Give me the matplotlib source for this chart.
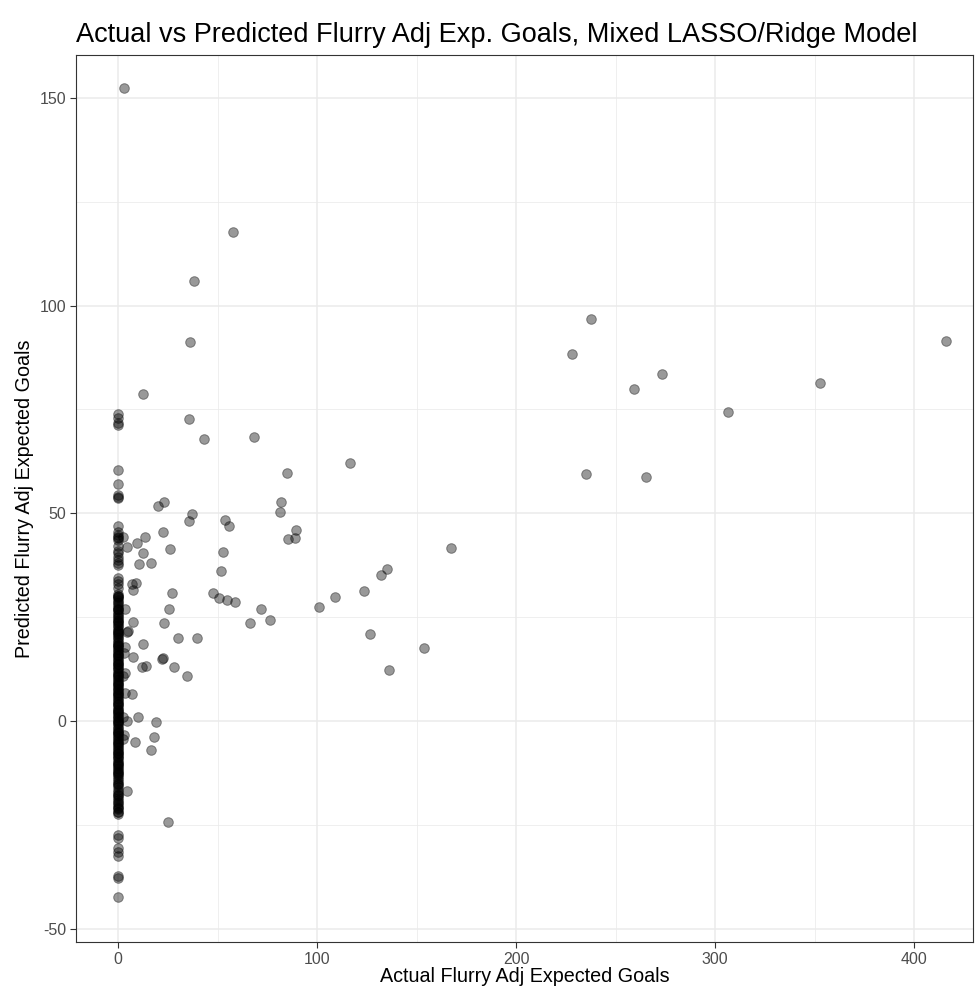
import numpy as np
import matplotlib
matplotlib.use("Agg")
import matplotlib.pyplot as plt

plt.rcParams["font.family"] = ["Liberation Sans", "DejaVu Sans"]

# players with 0 actual flurry adj xG (the column at x = 0)
zero_actual_pred = [
    73.9, 72.9, 71.8, 71.2, 60.4, 57.0, 54.5, 53.9, 53.6, 47.0, 45.5, 44.8, 44.0, 43.5,
    41.0, 40.5, 39.5, 38.0, 37.5, 34.5, 33.8, 33.0, 32.0, 30.5, 30.0, 29.5, 29.0, 28.3,
    27.5, 27.0, 26.2, 25.5, 25.0, 24.3, 23.5, 22.8, 22.0, 21.4, 21.0, 20.3, 19.5, 18.8,
    18.0, 17.4, 16.6, 16.0, 15.2, 14.5, 13.8, 13.0, 12.4, 11.6, 11.0, 10.2, 9.5, 8.8,
    8.0, 7.4, 6.6, 6.0, 5.2, 4.5, 3.8, 3.0, 2.4, 1.6, 1.0, 0.3, -0.5, -1.2, -2.0, -2.6,
    -3.4, -4.0, -4.8, -5.5, -6.2, -7.0, -7.6, -8.4, -9.0, -9.8, -10.5, -11.2, -12.0,
    -12.8, -13.5, -14.5, -15.5, -16.5, -17.5, -18.5, -19.5, -20.3, -21.0, -21.8, -22.5,
    -27.4, -28.2, -30.6, -31.5, -32.5, -37.3, -37.8, -42.4,
    # second layer where the column is solid black
    44.2, 42.0, 38.8, 29.8, 28.7, 27.8, 26.6, 25.8, 24.7, 23.9, 23.1, 22.4, 21.7, 20.7,
    19.9, 19.1, 18.4, 17.7, 17.0, 16.3, 15.6, 14.9, 14.1, 13.4, 12.7, 12.0, 11.3, 10.6,
    9.9, 9.1, 8.4, 7.7, 7.0, 6.3, 5.6, 4.9, 4.1, 3.4, 2.7, 2.0, 1.3, 0.6, -0.1, -0.8,
    -1.6, -2.3, -3.0, -3.7, -4.4, -5.1, -5.8, -6.6, -7.3, -8.0, -8.7, -9.4, -10.1,
    -10.8, -11.6, -12.4, -13.1, -14.0, -15.0, -16.0, -17.0, -18.0, -19.0, -20.8, -22.0,
    # third layer, densest stretch
    30.2, 26.9, 24.0, 21.2, 18.2, 15.9, 13.6, 10.9, 8.6, 6.8, 4.2, 2.2, -0.3, -2.8,
    -5.3, -7.8, -10.3, -12.6, -15.2, -17.8, -19.8, -21.3,
]

actual_xg = [
    3.0, 58.0, 38.0, 36.0, 35.7, 12.6, 43.2, 68.3, 116.6, 84.9, 81.9, 81.4, 37.2, 35.7,
    53.8, 55.8, 89.4, 85.4, 88.9, 52.8, 51.8, 135.2, 132.2, 123.6, 109.0, 101.0, 47.7,
    50.8, 54.8, 58.8, 71.9, 76.4, 66.3, 126.6, 153.8, 136.2, 39.7, 34.7, 167.3,
    237.7, 228.1, 273.4, 259.3, 352.8, 416.0, 306.5, 235.2, 265.3,
    22.6, 26.1, 27.1, 25.6, 23.1, 30.2, 22.6, 28.1,
    20.1, 23.1, 2.5, 4.5, 9.5, 13.6, 12.6, 10.6, 16.6, 7.0, 9.0, 7.5,
    3.5, 7.5, 4.5, 5.0, 12.6, 3.5, 3.0, 7.5, 22.0, 12.0, 14.0, 3.5, 2.5, 3.5, 7.0,
    10.0, 2.5, 4.5, 19.0, 3.0, 2.5, 18.0, 8.5, 16.6, 4.5, 25.1,
]
predicted_xg = [
    152.3, 117.7, 106.0, 91.2, 72.7, 78.7, 67.9, 68.4, 62.1, 59.7, 52.7, 50.3, 49.8, 48.1,
    48.4, 46.9, 46.0, 43.8, 44.0, 40.7, 36.1, 36.6, 35.1, 31.3, 29.8, 27.4, 30.8,
    29.6, 29.1, 28.6, 27.0, 24.3, 23.6, 20.9, 17.6, 12.3, 20.0, 10.8, 41.6,
    96.8, 88.3, 83.5, 79.9, 81.3, 91.5, 74.4, 59.4, 58.7,
    45.5, 41.4, 30.8, 27.0, 23.6, 20.0, 15.2, 13.0,
    51.7, 52.7, 44.3, 41.9, 42.8, 44.3, 40.4, 37.8, 38.0, 33.0, 33.2, 31.5,
    27.0, 23.8, 21.4, 21.7, 18.5, 17.8, 16.4, 15.4, 15.0, 13.0, 13.2, 11.6, 10.8, 6.7, 6.5,
    1.0, 1.0, 0.0, -0.2, -3.4, -4.3, -3.9, -5.1, -7.0, -16.8, -24.3,
]

x = np.concatenate([np.zeros(len(zero_actual_pred)), actual_xg])
y = np.concatenate([zero_actual_pred, predicted_xg])

fig = plt.figure(figsize=(9.75, 9.86), dpi=100)
ax = fig.add_axes([76 / 975, 1 - 942 / 986, (973 - 76) / 975, (942 - 55) / 986])

ax.scatter(x, y, s=48, c="black", alpha=0.4, linewidths=0.7, zorder=3)

ax.set_xlim(-21.1, 429.6)
ax.set_ylim(-53.2, 160.3)
ax.set_xticks([0, 100, 200, 300, 400])
ax.set_yticks([-50, 0, 50, 100, 150])
ax.set_xticks([50, 150, 250, 350], minor=True)
ax.set_yticks([-25, 25, 75, 125], minor=True)
ax.set_yticklabels(["-50", "0", "50", "100", "150"])

ax.grid(which="major", color="#EBEBEB", linewidth=1.1, zorder=0)
ax.grid(which="minor", color="#EBEBEB", linewidth=0.55, zorder=0)
ax.set_axisbelow(True)
for sp in ax.spines.values():
    sp.set_color("#333333")
    sp.set_linewidth(0.8)
ax.tick_params(which="major", length=4, width=0.8, color="#333333",
               labelcolor="#4D4D4D", labelsize=11.5, pad=3)
ax.tick_params(which="minor", length=0)

ax.set_xlabel("Actual Flurry Adj Expected Goals", fontsize=14.2, labelpad=0)
ax.set_ylabel("Predicted Flurry Adj Expected Goals", fontsize=14.2, labelpad=4)
ax.set_title("Actual vs Predicted Flurry Adj Exp. Goals, Mixed LASSO/Ridge Model",
             fontsize=19.5, loc="left", pad=9)

fig.savefig("out.png", dpi=100)
